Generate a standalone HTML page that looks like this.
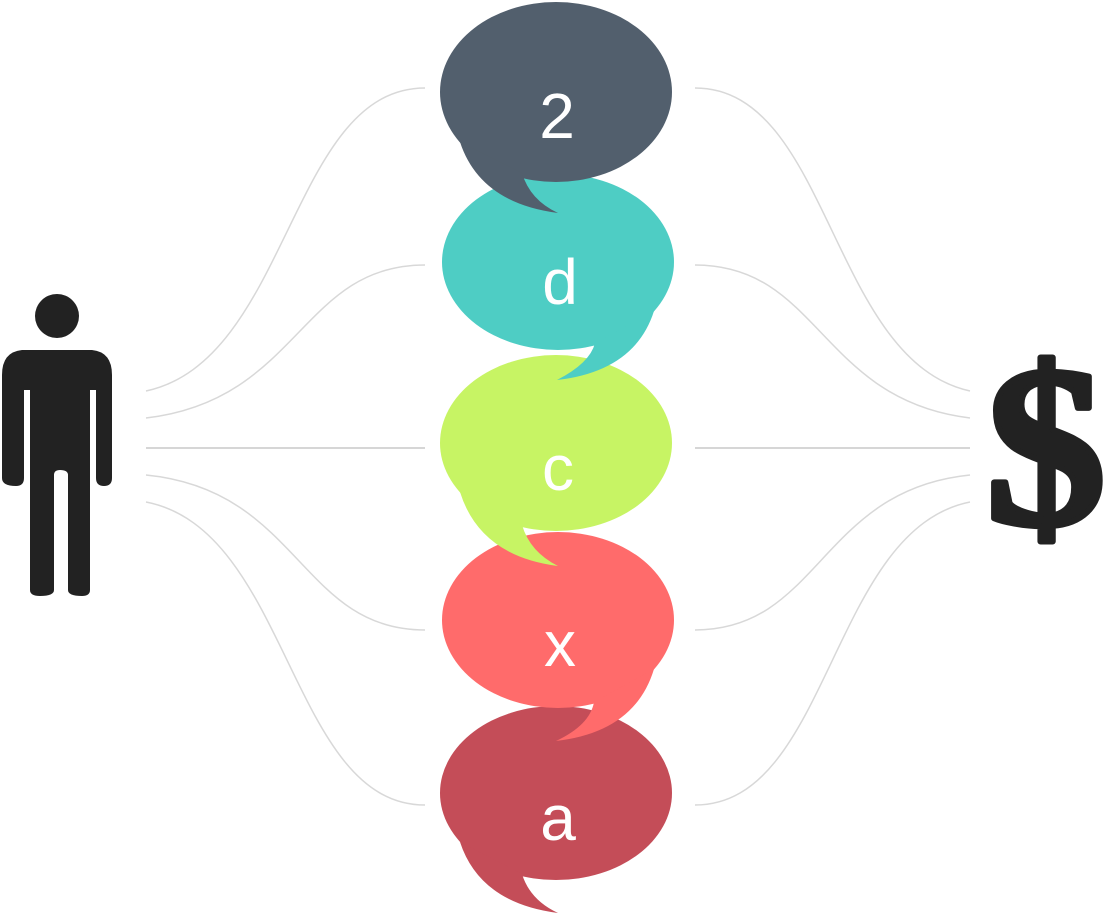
<!DOCTYPE html>
<html><head><meta charset="utf-8"><style>
html,body{margin:0;padding:0;background:#fff;}
svg{display:block}
</style></head><body>
<svg width="1104" height="916" viewBox="0 0 1104 916" xmlns="http://www.w3.org/2000/svg">
<g fill="none" stroke="#d8d8d8" stroke-width="1.5">
<path d="M146,391 C290,360 290,88 425,88"/>
<path d="M146,418 C300,400 300,265 425,265"/>
<path d="M146,448 L425,448" stroke="#c8c8c8"/>
<path d="M146,475 C300,490 300,630 425,630"/>
<path d="M146,502 C290,530 290,805 425,805"/>
<path d="M695,88 C830,88 830,360 970,391"/>
<path d="M695,265 C820,265 820,400 970,418"/>
<path d="M695,448 L970,448" stroke="#c8c8c8"/>
<path d="M695,630 C820,630 820,490 970,475"/>
<path d="M695,805 C830,805 830,530 970,502"/>
</g>
<g fill="#222">
<circle cx="57" cy="316" r="22"/>
<path d="M22,350 L92,350 Q112,352 112,375 L112,478 Q112,486 104,486 Q96,486 96,478 L96,390 L90,390 L90,590 Q90,596 82,596 Q68,596 68,590 L68,475 Q68,470 60,470 Q54,470 54,475 L54,590 Q54,596 40,596 Q30,596 30,590 L30,390 L24,390 L24,478 Q24,486 16,486 Q2,486 2,478 L2,375 Q2,352 22,350 Z"/>
</g>
<text transform="translate(1046,524) scale(1.05,1)" x="0" y="0" font-family="Liberation Serif, serif" font-weight="bold" font-size="230" fill="#222" stroke="#222" stroke-width="6" stroke-linejoin="round" text-anchor="middle">$</text>
<g>
<ellipse cx="556" cy="793" rx="116" ry="87" fill="#c44d58"/>
<path d="M460,842 Q480,903 558,913 Q530,900 522,874 Z" fill="#c44d58"/>
<text x="558" y="840" font-family="Liberation Sans, sans-serif" font-size="64" fill="#fff" text-anchor="middle">a</text>
</g>
<g>
<ellipse cx="558" cy="620" rx="116" ry="88" fill="#ff6b6b"/>
<path d="M654,669 Q635,732 556,741 Q590,725 594,702 Z" fill="#ff6b6b"/>
<text x="560" y="666" font-family="Liberation Sans, sans-serif" font-size="64" fill="#fff" text-anchor="middle">x</text>
</g>
<g>
<ellipse cx="556" cy="443" rx="116" ry="88" fill="#c7f464"/>
<path d="M460,492 Q480,556 558,566 Q530,552 522,525 Z" fill="#c7f464"/>
<text x="558" y="490" font-family="Liberation Sans, sans-serif" font-size="64" fill="#fff" text-anchor="middle">c</text>
</g>
<g>
<ellipse cx="558" cy="262" rx="116" ry="88" fill="#4ecdc4"/>
<path d="M654,311 Q635,371 557,380 Q590,363 595,343 Z" fill="#4ecdc4"/>
<text x="560" y="304" font-family="Liberation Sans, sans-serif" font-size="64" fill="#fff" text-anchor="middle">d</text>
</g>
<g>
<ellipse cx="556" cy="92" rx="116" ry="90" fill="#525f6d"/>
<path d="M460,142 Q480,203 558,213 Q530,200 522,173 Z" fill="#525f6d"/>
<text x="557" y="138" font-family="Liberation Sans, sans-serif" font-size="64" fill="#fff" text-anchor="middle">2</text>
</g>
</svg>
</body></html>
